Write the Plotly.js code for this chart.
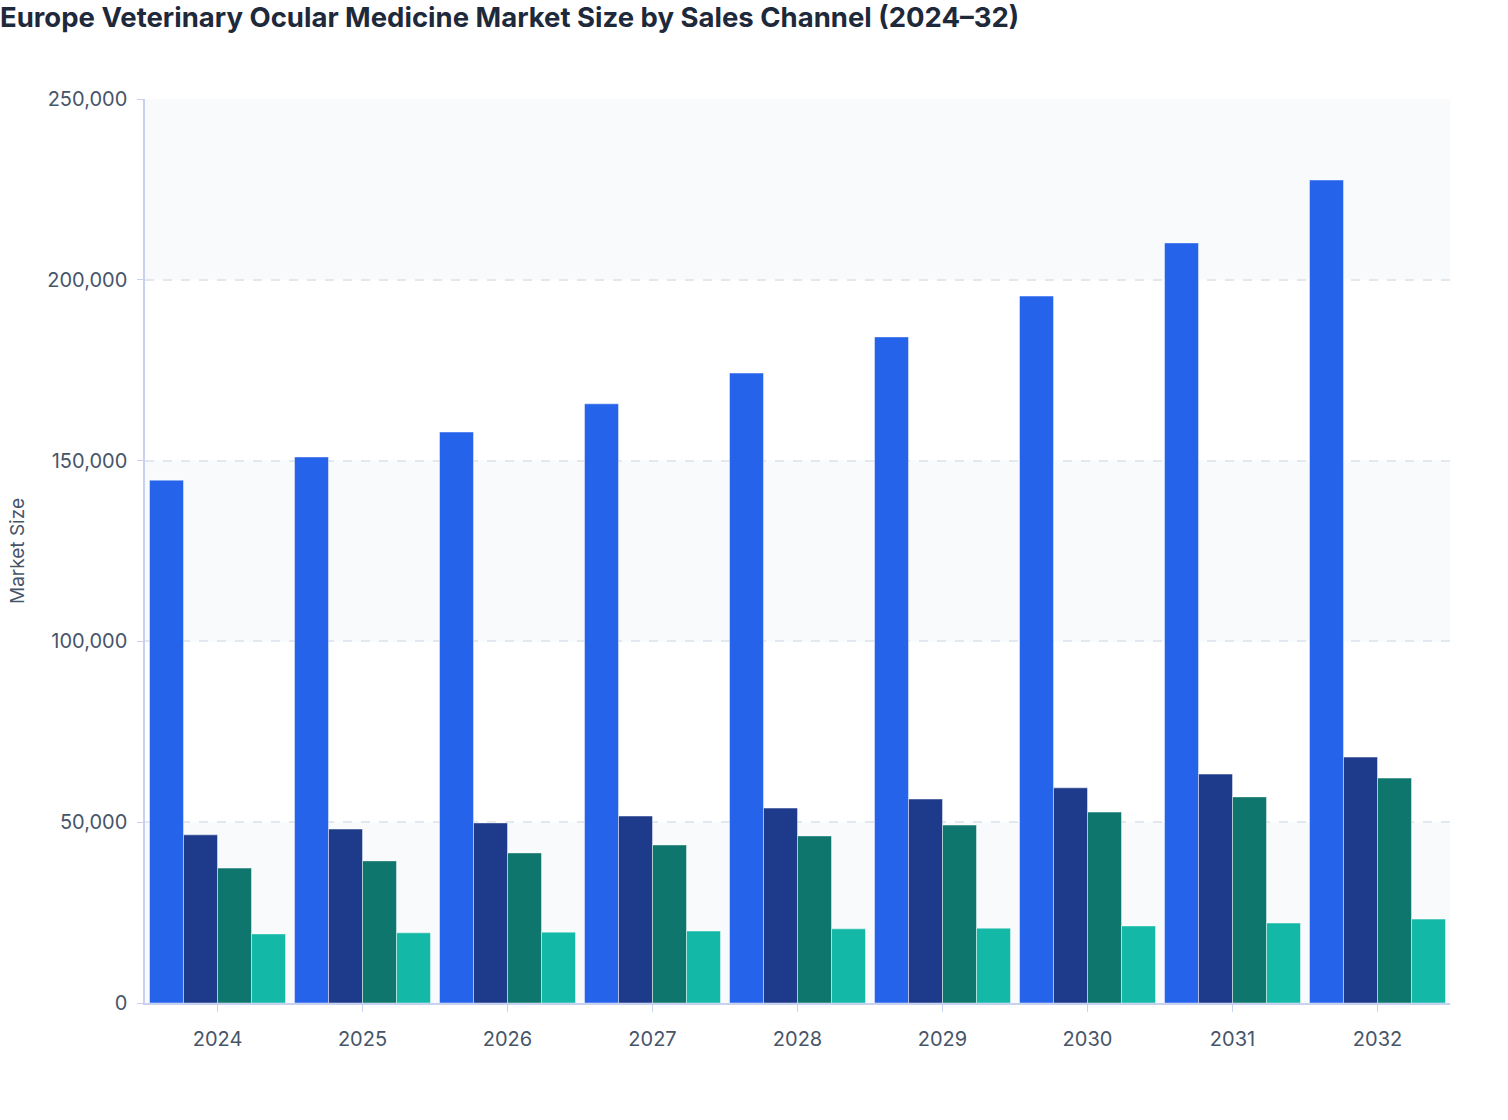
<!DOCTYPE html>
<html>
<head>
<meta charset="utf-8">
<script src="https://cdn.plot.ly/plotly-3.0.1.min.js"></script>
<style>html,body{margin:0;padding:0;background:#fff;}#chart{width:1508px;height:1120px;}</style>
</head>
<body>
<div id="chart"></div>
<script>
const years = ["2024","2025","2026","2027","2028","2029","2030","2031","2032"];
const seriesNames = ["Veterinary Hospitals","Veterinary Clinics","Retail Pharmacies","Online Pharmacies"];
const hospitals = [144600,151000,157900,165700,174200,184200,195500,210200,227600];
const clinics = [46500,48100,49800,51700,53900,56400,59500,63300,68000];
const retail = [37300,39300,41500,43700,46200,49200,52800,57000,62200];
const online = [19100,19400,19600,19900,20500,20700,21300,22100,23200];
const colors = ["#2563eb","#1e3a8a","#0f766e","#14b8a6"];
const tickVals = [0,50000,100000,150000,200000,250000];

const allSeries = [hospitals, clinics, retail, online];
const data = allSeries.map((vals, i) => ({
  type: "bar",
  name: seriesNames[i],
  x: years,
  y: vals,
  marker: {color: colors[i], line: {color: "rgba(255,255,255,0.45)", width: 1}}
}));

// alternating background bands
const shapes = [];
for (let i = 0; i < tickVals.length - 1; i += 2) {
  shapes.push({type: "rect", xref: "paper", yref: "y", x0: 0, x1: 1, y0: tickVals[i], y1: tickVals[i+1],
    fillcolor: "#f8fafc", line: {width: 0}, layer: "below"});
}

const layout = {
  width: 1508, height: 1120,
  margin: {l: 145, r: 58, t: 99, b: 117},
  paper_bgcolor: "#ffffff",
  plot_bgcolor: "#ffffff",
  font: {family: "Inter, 'Noto Sans', sans-serif", color: "#475569", size: 20},
  title: {text: "<b>Europe Veterinary Ocular Medicine Market Size by Sales Channel (2024–32)</b>",
    x: 0, xref: "container", xanchor: "left", y: 1 - 17/1120, yref: "container", yanchor: "middle",
    pad: {l: 0},
    font: {family: "Inter, sans-serif", size: 27.5, color: "#1e293b"}},
  barmode: "group",
  bargap: 0.062,
  bargroupgap: 0,
  showlegend: false,
  shapes: shapes,
  xaxis: {
    type: "category",
    showline: true, linecolor: "#c7d2f0", linewidth: 1.5,
    ticks: "outside", ticklen: 7, tickcolor: "#c7d2f0",
    ticklabelstandoff: 10,
    showgrid: false,
    tickfont: {size: 20, color: "#475569"}
  },
  yaxis: {
    range: [0, 250000],
    tickvals: tickVals,
    tickformat: ",d",
    showline: true, linecolor: "#c7d2f0", linewidth: 1.5,
    ticks: "outside", ticklen: 6, tickcolor: "#c7d2f0",
    ticklabelstandoff: 6,
    gridcolor: "#e2e8f0", griddash: "dash", gridwidth: 1.5,
    zeroline: false,
    tickfont: {size: 20, color: "#475569"},
    title: {text: "Market Size", font: {size: 19, color: "#475569"}, standoff: 18}
  }
};

Plotly.newPlot("chart", data, layout, {displayModeBar: false});
</script>
</body>
</html>
